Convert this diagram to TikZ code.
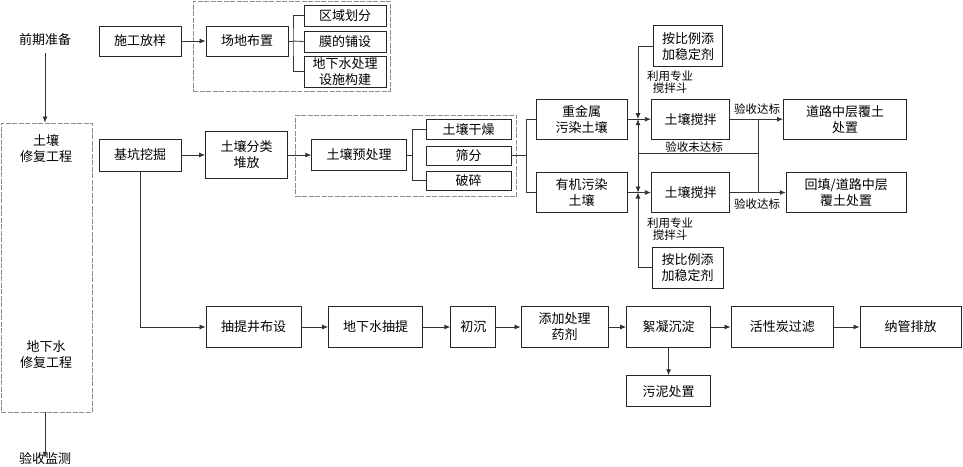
\documentclass[tikz,border=0pt]{standalone}
\usepackage{fontspec}
\setmainfont{Noto Sans CJK SC}
\usetikzlibrary{arrows.meta}
\begin{document}
\begin{tikzpicture}[x=1pt,y=-1pt,
  box/.style={draw=black!85, line width=0.9pt, inner sep=0pt, align=center, font=\fontsize{13}{16}\selectfont},
  dbox/.style={draw=black!45, line width=0.9pt, dash pattern=on 5pt off 1.5pt, inner sep=0pt},
  lbl/.style={inner sep=0pt, align=center, font=\fontsize{13}{16}\selectfont},
  sml/.style={inner sep=0pt, align=center, font=\fontsize{11.5}{12.5}\selectfont},
  ln/.style={draw=black!80, line width=0.8pt},
  arr/.style={ln, -{Latex[length=6pt,width=5pt]}},
]
\useasboundingbox (0,0) rectangle (963,466);
% dashed frames
\node[dbox, minimum width=197pt, minimum height=90pt] (f1) at (291.5,46) {};
\node[dbox, minimum width=221pt, minimum height=81.7pt] (f2) at (406.3,155.85) {};
\node[dbox, minimum width=91pt, minimum height=289pt] (lbox) at (46.5,267.5) {};
% left column texts
\node[lbl] (qq) at (45,40) {前期准备};
\node[lbl] (trxf) at (46,148) {土壤\\修复工程};
\node[lbl] (dxxf) at (46,355) {地下水\\修复工程};
\node[lbl] (ysjc) at (45,459) {验收监测};
% row 1
\node[box, minimum width=82pt, minimum height=30pt] (sgfy) at (140,41) {施工放样};
\node[box, minimum width=82pt, minimum height=30pt] (cdbz) at (247,41) {场地布置};
\node[box, minimum width=82pt, minimum height=21pt] (qyhf) at (345,15.5) {区域划分};
\node[box, minimum width=82pt, minimum height=21pt] (mdps) at (345,41.5) {膜的铺设};
\node[box, minimum width=82pt, minimum height=31pt] (dxss) at (345,71.5) {地下水处理\\设施构建};
% row 2
\node[box, minimum width=82pt, minimum height=32pt] (jkwj) at (140,155) {基坑挖掘};
\node[box, minimum width=82pt, minimum height=46.6pt] (trfl) at (246.5,155) {土壤分类\\堆放};
\node[box, minimum width=95pt, minimum height=31.4pt] (tryc) at (359.2,155) {土壤预处理};
\node[box, minimum width=85pt, minimum height=20pt] (trgz) at (468.5,129.3) {土壤干燥};
\node[box, minimum width=85pt, minimum height=19pt] (sf) at (468.5,155.8) {筛分};
\node[box, minimum width=85pt, minimum height=19pt] (ps) at (468.5,180.5) {破碎};
\node[box, minimum width=90.6pt, minimum height=40.3pt] (zjs) at (581.7,119.2) {重金属\\污染土壤};
\node[box, minimum width=90.6pt, minimum height=40.3pt] (yjwr) at (581.7,192.5) {有机污染\\土壤};
\node[box, minimum width=78.3pt, minimum height=40.3pt] (jb1) at (690.5,119.2) {土壤搅拌};
\node[box, minimum width=78.3pt, minimum height=40.3pt] (jb2) at (690.5,192.5) {土壤搅拌};
\node[box, minimum width=69pt, minimum height=41pt] (wd1) at (688,46.2) {按比例添\\加稳定剂};
\node[box, minimum width=71pt, minimum height=41pt] (wd2) at (687.5,267.8) {按比例添\\加稳定剂};
\node[box, minimum width=123pt, minimum height=40.3pt] (dl) at (845,119.2) {道路中层覆土\\处置};
\node[box, minimum width=120pt, minimum height=40.3pt] (ht) at (846.2,192.5) {回填/道路中层\\覆土处置};
% labels
\node[sml] (l1) at (670,82) {利用专业\\搅拌斗};
\node[sml] (l2) at (670,229) {利用专业\\搅拌斗};
\node[sml] (l3) at (757,109) {验收达标};
\node[sml] (l4) at (757,204.5) {验收达标};
\node[sml] (l5) at (694,147) {验收未达标};
% row 3
\node[box, minimum width=95pt, minimum height=40.6pt] (ctj) at (253.5,327) {抽提井布设};
\node[box, minimum width=94pt, minimum height=40.6pt] (dxcq) at (375.6,327) {地下水抽提};
\node[box, minimum width=45pt, minimum height=40.6pt] (cc) at (473.3,327) {初沉};
\node[box, minimum width=87pt, minimum height=40.6pt] (tjcl) at (564.5,327) {添加处理\\药剂};
\node[box, minimum width=84pt, minimum height=40.6pt] (xncd) at (668.6,327) {絮凝沉淀};
\node[box, minimum width=102.6pt, minimum height=40.6pt] (hxt) at (782.3,327) {活性炭过滤};
\node[box, minimum width=101pt, minimum height=40.6pt] (ngpf) at (910.5,327) {纳管排放};
\node[box, minimum width=84pt, minimum height=31pt] (wnc) at (668.6,391.2) {污泥处置};
% coordinates
\coordinate (b1) at (293,41);
\coordinate (b2) at (412.7,155);
\coordinate (b3) at (526.4,155.8);
\coordinate (j1) at (638,119.2);
\coordinate (j2) at (638,192.5);
\coordinate (jm) at (638,153.3);
\coordinate (r1) at (758,119.2);
\coordinate (r2) at (758,192.5);
\coordinate (rm) at (758,153.3);
\coordinate (g1) at (140,327);
% connectors left
\draw[arr] (qq.south) ++(0,7) -- (lbox.north -| qq.south);
\draw[arr] (lbox.south -| ysjc.north) -- ([yshift=-5pt]ysjc.north);
% row 1
\draw[arr] (sgfy.east) -- (cdbz.west);
\draw[ln] (cdbz.east) -- (b1);
\draw[ln] (qyhf.west) -| (b1) |- (dxss.west);
\draw[ln] (mdps.west) -- (b1);
% row 2
\draw[arr] (jkwj.east) -- (trfl.west);
\draw[arr] (trfl.east) -- (tryc.west);
\draw[ln] (tryc.east) -- (b2);
\draw[ln] (trgz.west) -| (b2) |- (ps.west);
\draw[ln] (sf.east) -- (b3);
\draw[ln] (zjs.west) -| (b3) |- (yjwr.west);
\draw[arr] (zjs.east) -- (jb1.west);
\draw[arr] (yjwr.east) -- (jb2.west);
\draw[arr] (wd1.west) -| (j1);
\draw[arr] (jm) -- (j1);
\draw[arr] (jm) -- (j2);
\draw[arr] (wd2.west) -| (j2);
\draw[arr] (jb1.east) -- (dl.west);
\draw[arr] (jb2.east) -- (ht.west);
\draw[ln] (r1) -- (r2);
\draw[ln] (rm) -- (jm);
% row 3
\draw[ln] (jkwj.south) -- (g1);
\draw[arr] (g1) -- (ctj.west);
\draw[arr] (ctj.east) -- (dxcq.west);
\draw[arr] (dxcq.east) -- (cc.west);
\draw[arr] (cc.east) -- (tjcl.west);
\draw[arr] (tjcl.east) -- (xncd.west);
\draw[arr] (xncd.east) -- (hxt.west);
\draw[arr] (hxt.east) -- (ngpf.west);
\draw[arr] (xncd.south) -- (wnc.north);
\end{tikzpicture}
\end{document}
